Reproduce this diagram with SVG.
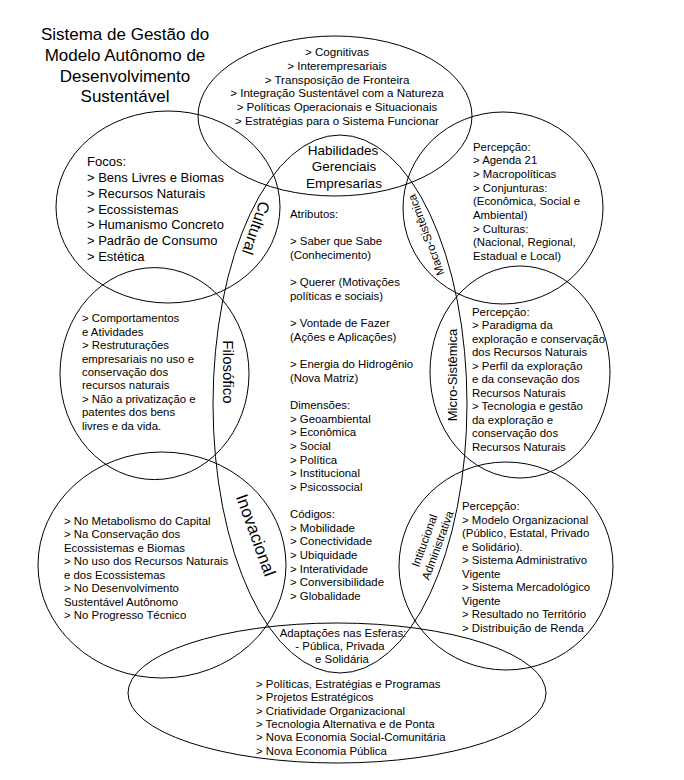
<svg xmlns="http://www.w3.org/2000/svg" width="684" height="780" viewBox="0 0 684 780">
<style>
text { font-family: "Liberation Sans", Arial, sans-serif; fill: #000; }
.s { font-size: 11.4px; }
.st { font-size: 11.6px; }
.m { font-size: 13px; }
.h { font-size: 13.5px; }
.t { font-size: 17px; }
.c { text-anchor: middle; }
.shape { fill: none; stroke: #000; stroke-width: 1; }
</style>
<rect width="684" height="780" fill="#fff"/>

<g id="titulo">
<text class="t c"><tspan x="125" y="40">Sistema de Gestão do</tspan><tspan x="125" y="61">Modelo Autônomo de</tspan><tspan x="125" y="81.5">Desenvolvimento</tspan><tspan x="125" y="101.5">Sustentável</tspan></text>
</g>

<g id="habilidades-topo">
<ellipse class="shape" cx="335" cy="116" rx="137" ry="80"/>
<text class="st c"><tspan x="337" y="56.3">&gt; Cognitivas</tspan><tspan x="337" dy="13.7">&gt; Interempresariais</tspan><tspan x="337" dy="13.7">&gt; Transposição de Fronteira</tspan><tspan x="337" dy="13.7">&gt; Integração Sustentável com a Natureza</tspan><tspan x="337" dy="13.7">&gt; Políticas Operacionais e Situacionais</tspan><tspan x="337" dy="13.7">&gt; Estratégias para o Sistema Funcionar</tspan></text>
</g>

<g id="habilidades-centro">
<ellipse class="shape" cx="340" cy="404" rx="127" ry="269"/>
<text class="h c"><tspan x="343" y="154.7">Habilidades</tspan><tspan x="344" dy="16.5">Gerenciais</tspan><tspan x="344" dy="16.5">Empresarias</tspan></text>
<text class="s"><tspan x="290" y="218">Atributos:</tspan><tspan x="290" dy="27.28">&gt; Saber que Sabe</tspan><tspan x="290" dy="13.64">(Conhecimento)</tspan><tspan x="290" dy="27.28">&gt; Querer (Motivações</tspan><tspan x="290" dy="13.64">políticas e sociais)</tspan><tspan x="290" dy="27.28">&gt; Vontade de Fazer</tspan><tspan x="290" dy="13.64">(Ações e Aplicações)</tspan><tspan x="290" dy="27.28">&gt; Energia do Hidrogênio</tspan><tspan x="290" dy="13.64">(Nova Matriz)</tspan><tspan x="290" dy="27.28">Dimensões:</tspan><tspan x="290" dy="13.64">&gt; Geoambiental</tspan><tspan x="290" dy="13.64">&gt; Econômica</tspan><tspan x="290" dy="13.64">&gt; Social</tspan><tspan x="290" dy="13.64">&gt; Política</tspan><tspan x="290" dy="13.64">&gt; Institucional</tspan><tspan x="290" dy="13.64">&gt; Psicossocial</tspan><tspan x="290" dy="27.28">Códigos:</tspan><tspan x="290" dy="13.64">&gt; Mobilidade</tspan><tspan x="290" dy="13.64">&gt; Conectividade</tspan><tspan x="290" dy="13.64">&gt; Ubiquidade</tspan><tspan x="290" dy="13.64">&gt; Interatividade</tspan><tspan x="290" dy="13.64">&gt; Conversibilidade</tspan><tspan x="290" dy="13.64">&gt; Globalidade</tspan></text>
</g>

<g id="cultural">
<ellipse class="shape" cx="168" cy="207" rx="112" ry="96"/>
<text class="m"><tspan x="87" y="166.4">Focos:</tspan><tspan x="87" dy="15.72">&gt; Bens Livres e Biomas</tspan><tspan x="87" dy="15.72">&gt; Recursos Naturais</tspan><tspan x="87" dy="15.72">&gt; Ecossistemas</tspan><tspan x="87" dy="15.72">&gt; Humanismo Concreto</tspan><tspan x="87" dy="15.72">&gt; Padrão de Consumo</tspan><tspan x="87" dy="15.72">&gt; Estética</tspan></text>
<text class="c" font-size="16" transform="translate(256,228) rotate(109)" y="5.5">Cultural</text>
</g>

<g id="filosofico">
<ellipse class="shape" cx="154.5" cy="373.6" rx="94.5" ry="106"/>
<text class="s"><tspan x="82" y="322.3">&gt; Comportamentos</tspan><tspan x="82" dy="13.42">e Atividades</tspan><tspan x="82" dy="13.42">&gt; Restruturações</tspan><tspan x="82" dy="13.42">empresariais no uso e</tspan><tspan x="82" dy="13.42">conservação dos</tspan><tspan x="82" dy="13.42">recursos naturais</tspan><tspan x="82" dy="13.42">&gt; Não a privatização e</tspan><tspan x="82" dy="13.42">patentes dos bens</tspan><tspan x="82" dy="13.42">livres e da vida.</tspan></text>
<text class="c" font-size="15" transform="translate(228,372) rotate(90)" y="5">Filosófico</text>
</g>

<g id="inovacional">
<ellipse class="shape" cx="162" cy="565" rx="124" ry="113"/>
<text class="s"><tspan x="64" y="524.7">&gt; No Metabolismo do Capital</tspan><tspan x="64" dy="13.47">&gt; Na Conservação dos</tspan><tspan x="64" dy="13.47">Ecossistemas e Biomas</tspan><tspan x="64" dy="13.47">&gt; No uso dos Recursos Naturais</tspan><tspan x="64" dy="13.47">e dos Ecossistemas</tspan><tspan x="64" dy="13.47">&gt; No Desenvolvimento</tspan><tspan x="64" dy="13.47">Sustentável Autônomo</tspan><tspan x="64" dy="13.47">&gt; No Progresso Técnico</tspan></text>
<text class="c" font-size="17" transform="translate(256,535) rotate(70)" y="6">Inovacional</text>
</g>

<g id="macro-sistemica">
<ellipse class="shape" cx="503" cy="208" rx="100" ry="96"/>
<text class="s"><tspan x="473" y="150.7">Percepção:</tspan><tspan x="473" dy="13.66">&gt; Agenda 21</tspan><tspan x="473" dy="13.66">&gt; Macropolíticas</tspan><tspan x="473" dy="13.66">&gt; Conjunturas:</tspan><tspan x="473" dy="13.66">(Econômica, Social e</tspan><tspan x="473" dy="13.66">Ambiental)</tspan><tspan x="473" dy="13.66">&gt; Culturas:</tspan><tspan x="473" dy="13.66">(Nacional, Regional,</tspan><tspan x="473" dy="13.66">Estadual e Local)</tspan></text>
<text class="c" font-size="11.5" transform="translate(426,235) rotate(-110)" y="4">Macro-Sistêmica</text>
</g>

<g id="micro-sistemica">
<ellipse class="shape" cx="520" cy="372" rx="90" ry="106"/>
<text class="s"><tspan x="472" y="315.7">Percepção:</tspan><tspan x="472" dy="13.5">&gt; Paradigma da</tspan><tspan x="472" dy="13.5">exploração e conservação</tspan><tspan x="472" dy="13.5">dos Recursos Naturais</tspan><tspan x="472" dy="13.5">&gt; Perfil da exploração</tspan><tspan x="472" dy="13.5">e da consevação dos</tspan><tspan x="472" dy="13.5">Recursos Naturais</tspan><tspan x="472" dy="13.5">&gt; Tecnologia e gestão</tspan><tspan x="472" dy="13.5">da exploração e</tspan><tspan x="472" dy="13.5">conservação dos</tspan><tspan x="472" dy="13.5">Recursos Naturais</tspan></text>
<text class="c" font-size="13" transform="translate(452,375) rotate(-90)" y="4.5">Micro-Sistêmica</text>
</g>

<g id="institucional-administrativa">
<ellipse class="shape" cx="506" cy="566" rx="107" ry="104"/>
<text class="s"><tspan x="462" y="510">Percepção:</tspan><tspan x="462" dy="13.5">&gt; Modelo Organizacional</tspan><tspan x="462" dy="13.5">(Público, Estatal, Privado</tspan><tspan x="462" dy="13.5">e Solidário).</tspan><tspan x="462" dy="13.5">&gt; Sistema Administrativo</tspan><tspan x="462" dy="13.5">Vigente</tspan><tspan x="462" dy="13.5">&gt; Sistema Mercadológico</tspan><tspan x="462" dy="13.5">Vigente</tspan><tspan x="462" dy="13.5">&gt; Resultado no Território</tspan><tspan x="462" dy="13.5">&gt; Distribuição de Renda</tspan></text>
<text class="c" font-size="11.5" transform="translate(431,543) rotate(-70)"><tspan x="0" y="-3">Intitucional</tspan><tspan x="0" y="11">Administrativa</tspan></text>
</g>

<g id="esferas">
<ellipse class="shape" cx="337" cy="693" rx="209" ry="70"/>
<text class="s c"><tspan x="343" y="637.3">Adaptações nas Esferas:</tspan><tspan x="340" dy="13">- Pública, Privada</tspan><tspan x="342" dy="13">e Solidária</tspan></text>
<text class="s"><tspan x="256" y="688">&gt; Políticas, Estratégias e Programas</tspan><tspan x="256" dy="13.35">&gt; Projetos Estratégicos</tspan><tspan x="256" dy="13.35">&gt; Criatividade Organizacional</tspan><tspan x="256" dy="13.35">&gt; Tecnologia Alternativa e de Ponta</tspan><tspan x="256" dy="13.35">&gt; Nova Economia Social-Comunitária</tspan><tspan x="256" dy="13.35">&gt; Nova Economia Pública</tspan></text>
</g>

<g id="connectors"></g>
</svg>
